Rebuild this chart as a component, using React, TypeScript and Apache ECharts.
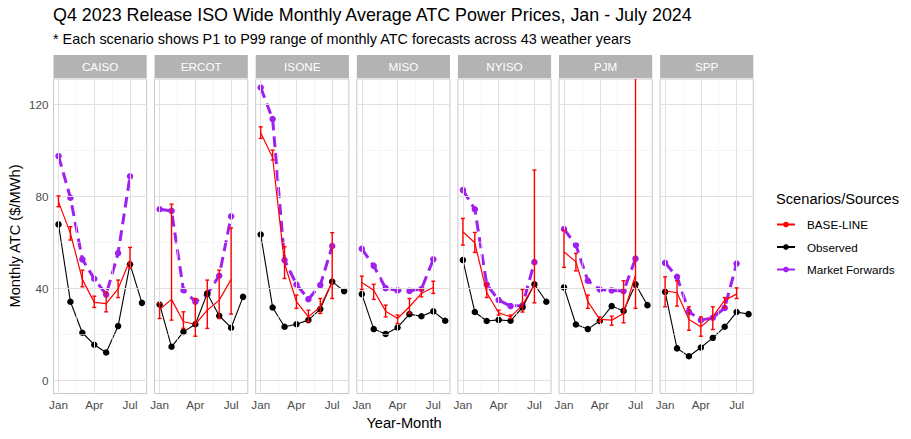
import React, { useEffect, useRef } from "react";
import * as echarts from "echarts";

const months = ["Jan", "Feb", "Mar", "Apr", "May", "Jun", "Jul", "Aug"];
const isos = ["CAISO", "ERCOT", "ISONE", "MISO", "NYISO", "PJM", "SPP"];

const observed: number[][] = [
  [67.7, 34.1, 20.6, 15.4, 12.0, 23.5, 50.4, 33.6],
  [32.9, 14.5, 21.0, 24.3, 37.7, 28.0, 22.8, 36.2],
  [63.3, 31.6, 23.2, 24.3, 26.1, 30.9, 42.8, 38.7],
  [37.4, 22.2, 20.1, 22.9, 28.7, 27.8, 29.9, 25.8],
  [52.2, 29.6, 25.7, 26.2, 25.8, 31.6, 41.7, 34.1],
  [40.3, 24.2, 22.2, 25.7, 32.2, 30.1, 41.7, 32.6],
  [38.4, 13.8, 10.4, 14.2, 18.4, 23.2, 29.6, 28.7],
];

const baseMid: number[][] = [
  [77.5, 63.8, 43.8, 33.8, 33.3, 39.7, 52.2],
  [30.7, 35.1, 25.4, 24.3, 30.4, 34.8, 43.8],
  [107.5, 96.8, 50.7, 34.1, 27.5, 31.9, 42.8],
  [42.5, 39.1, 30.0, 26.8, 31.9, 37.7, 40.3],
  [64.5, 59.7, 38.0, 29.3, 27.5, 32.6, 41.7],
  [55.8, 51.4, 34.1, 26.4, 26.1, 29.0, 45.7],
  [38.8, 38.0, 26.4, 23.2, 27.5, 34.8, 37.4],
];
const baseLow: number[][] = [
  [75.4, 60.9, 40.6, 31.6, 29.7, 35.9, 48.6],
  [26.8, 26.1, 22.5, 19.1, 22.5, 26.8, 28.7],
  [105.1, 95.7, 44.2, 31.2, 25.4, 29.0, 35.5],
  [39.4, 35.1, 27.5, 24.6, 29.0, 36.2, 37.7],
  [58.7, 55.5, 35.9, 28.3, 26.8, 29.6, 33.6],
  [49.0, 47.5, 31.2, 25.4, 23.9, 24.9, 31.2],
  [31.9, 32.2, 21.7, 19.1, 22.0, 31.5, 35.5],
];
const baseHigh: number[][] = [
  [80.1, 66.7, 47.8, 36.5, 38.3, 43.5, 57.7],
  [33.3, 76.5, 29.7, 35.5, 43.5, 47.8, 66.2],
  [110.1, 100.0, 58.0, 37.0, 30.4, 35.5, 64.1],
  [45.2, 41.7, 32.6, 28.3, 35.5, 39.4, 43.0],
  [70.3, 64.2, 42.0, 30.4, 28.3, 39.4, 91.3],
  [65.2, 55.1, 37.0, 27.5, 27.8, 43.2, 160.0],
  [44.9, 43.2, 31.9, 27.5, 31.9, 35.9, 40.1],
];

const forwards: number[][] = [
  [97.4, 79.3, 52.5, 44.1, 37.2, 55.2, 88.6],
  [74.3, 73.6, 39.1, 34.1, 37.4, 45.4, 71.2],
  [127.2, 113.5, 52.2, 41.6, 35.2, 41.3, 58.3],
  [57.1, 49.7, 40.0, 39.0, 38.8, 39.6, 52.5],
  [82.6, 74.3, 41.6, 34.8, 32.2, 32.5, 51.3],
  [65.7, 58.7, 43.2, 39.4, 39.0, 38.7, 52.8],
  [51.0, 44.9, 29.7, 26.1, 27.1, 31.4, 50.7],
];

const xTicks = [0, 3, 6];
const xMinor = [1.5, 4.5];
const yTicks = [0, 40, 80, 120];
const yMinor = [20, 60, 100];
const legendNames = ["BASE-LINE", "Observed", "Market Forwards"];

const FONT = "Liberation Sans, Arial, sans-serif";
const RED = "#FF0000";
const PURPLE = "#A020F0";
const BLACK = "#000000";

const PANEL_LEFT = 53.5;
const PANEL_STEP = 101.1;
const PANEL_W = 93.2;
const PANEL_TOP = 79;
const PANEL_H = 314.5;
const STRIP_H = 23;

export default function App() {
  const ref = useRef<HTMLDivElement>(null);
  useEffect(() => {
    if (!ref.current) return;
    const chart = echarts.init(ref.current, null, { renderer: "svg" });

    const grids: any[] = [];
    const xAxes: any[] = [];
    const yAxes: any[] = [];
    const series: any[] = [];
    const graphics: any[] = [];

    isos.forEach((iso, i) => {
      const left = PANEL_LEFT + PANEL_STEP * i;
      grids.push({
        left,
        top: PANEL_TOP,
        width: PANEL_W,
        height: PANEL_H,
        show: true,
        borderColor: "#c8c8c8",
        borderWidth: 1,
        backgroundColor: "#ffffff",
        containLabel: false,
      });
      xAxes.push({
        type: "value",
        gridIndex: i,
        min: -0.42,
        max: 7.4,
        axisLine: { show: false },
        splitLine: { show: false },
        axisTick: {
          show: true,
          customValues: xTicks,
          length: 3,
          lineStyle: { color: "#b3b3b3", width: 1 },
        },
        axisLabel: {
          show: true,
          customValues: xTicks,
          formatter: (v: number) => months[Math.round(v)] || "",
          color: "#4d4d4d",
          fontSize: 11.7,
          fontFamily: FONT,
          margin: 5,
        },
      });
      yAxes.push({
        type: "value",
        gridIndex: i,
        min: -5.8,
        max: 130.9,
        axisLine: { show: false },
        splitLine: { show: false },
        axisTick: {
          show: i === 0,
          customValues: yTicks,
          length: 3,
          lineStyle: { color: "#b3b3b3", width: 1 },
        },
        axisLabel: {
          show: i === 0,
          customValues: yTicks,
          color: "#4d4d4d",
          fontSize: 11.7,
          fontFamily: FONT,
          margin: 5,
        },
      });

      const gridLines: any[] = [];
      xMinor.forEach((v) =>
        gridLines.push({ xAxis: v, lineStyle: { color: "#f0f0f0", width: 0.6, type: "solid" } })
      );
      yMinor.forEach((v) =>
        gridLines.push({ yAxis: v, lineStyle: { color: "#f0f0f0", width: 0.6, type: "solid" } })
      );
      xTicks.forEach((v) =>
        gridLines.push({ xAxis: v, lineStyle: { color: "#e0e0e0", width: 1, type: "solid" } })
      );
      yTicks.forEach((v) =>
        gridLines.push({ yAxis: v, lineStyle: { color: "#e0e0e0", width: 1, type: "solid" } })
      );

      series.push({
        type: "line",
        name: "grid" + i,
        xAxisIndex: i,
        yAxisIndex: i,
        data: [],
        z: 1,
        silent: true,
        markLine: {
          silent: true,
          symbol: ["none", "none"],
          label: { show: false },
          animation: false,
          data: gridLines,
        },
      });

      series.push({
        type: "line",
        name: "Market Forwards",
        xAxisIndex: i,
        yAxisIndex: i,
        data: forwards[i].map((v, k) => [k, v]),
        symbol: "circle",
        symbolSize: 6.5,
        itemStyle: { color: PURPLE },
        lineStyle: { color: PURPLE, width: 3, type: [11, 6] },
        z: 3,
      });
      series.push({
        type: "line",
        name: "Observed",
        xAxisIndex: i,
        yAxisIndex: i,
        data: observed[i].map((v, k) => [k, v]),
        symbol: "circle",
        symbolSize: 6.5,
        itemStyle: { color: BLACK },
        lineStyle: { color: BLACK, width: 1.1 },
        z: 4,
      });
      series.push({
        type: "line",
        name: "BASE-LINE",
        xAxisIndex: i,
        yAxisIndex: i,
        data: baseMid[i].map((v, k) => [k, v]),
        showSymbol: false,
        symbol: "none",
        lineStyle: { color: RED, width: 1.2 },
        z: 5,
      });
      series.push({
        type: "custom",
        name: "BASE-LINE-range",
        xAxisIndex: i,
        yAxisIndex: i,
        data: baseLow[i].map((v, k) => [k, v, baseHigh[i][k]]),
        encode: { x: 0, y: [1, 2] },
        z: 6,
        renderItem: (params: any, api: any) => {
          const x = api.value(0);
          const lo = api.value(1);
          const hi = api.value(2);
          const pLo = api.coord([x, lo]);
          const pHi = api.coord([x, hi]);
          const cs = params.coordSys;
          const topY = Math.max(pHi[1], cs.y);
          const half = 2;
          const style = { stroke: RED, lineWidth: 1.4 };
          const children: any[] = [
            { type: "line", shape: { x1: pLo[0], y1: pLo[1], x2: pLo[0], y2: topY }, style },
            { type: "line", shape: { x1: pLo[0] - half, y1: pLo[1], x2: pLo[0] + half, y2: pLo[1] }, style },
          ];
          if (pHi[1] >= cs.y) {
            children.push({
              type: "line",
              shape: { x1: pHi[0] - half, y1: pHi[1], x2: pHi[0] + half, y2: pHi[1] },
              style,
            });
          }
          return { type: "group", children };
        },
      });

      graphics.push({
        type: "rect",
        shape: { x: left, y: PANEL_TOP - STRIP_H - 1, width: PANEL_W, height: STRIP_H },
        style: { fill: "#b3b3b3" },
        silent: true,
      });
      graphics.push({
        type: "text",
        x: left + PANEL_W / 2,
        y: PANEL_TOP - 1 - STRIP_H / 2,
        style: {
          text: iso,
          fill: "#ffffff",
          font: `11.7px ${FONT}`,
          align: "center",
          verticalAlign: "middle",
        },
        silent: true,
      });
    });

    // titles
    graphics.push({
      type: "text",
      x: 53,
      y: 15,
      style: {
        text: "Q4 2023 Release ISO Wide Monthly Average ATC Power Prices, Jan - July 2024",
        fill: "#000000",
        font: `17.9px ${FONT}`,
        verticalAlign: "middle",
      },
    });
    graphics.push({
      type: "text",
      x: 53,
      y: 39,
      style: {
        text: "* Each scenario shows P1 to P99 range of monthly ATC forecasts across 43 weather years",
        fill: "#000000",
        font: `14.4px ${FONT}`,
        verticalAlign: "middle",
      },
    });
    graphics.push({
      type: "text",
      x: 404,
      y: 423,
      style: {
        text: "Year-Month",
        fill: "#000000",
        font: `14.67px ${FONT}`,
        align: "center",
        verticalAlign: "middle",
      },
    });
    graphics.push({
      type: "text",
      x: 15,
      y: 236,
      rotation: Math.PI / 2,
      style: {
        text: "Monthly ATC ($/MWh)",
        fill: "#000000",
        font: `14.67px ${FONT}`,
        align: "center",
        verticalAlign: "middle",
      },
    });

    // legend
    graphics.push({
      type: "text",
      x: 776,
      y: 199,
      style: {
        text: "Scenarios/Sources",
        fill: "#000000",
        font: `14.67px ${FONT}`,
        verticalAlign: "middle",
      },
    });
    const legendColors = [RED, BLACK, PURPLE];
    legendNames.forEach((name, k) => {
      const cy = 224.5 + k * 22.5;
      graphics.push({
        type: "line",
        shape: { x1: 777, y1: cy, x2: 795, y2: cy },
        style: { stroke: legendColors[k], lineWidth: 2 },
      });
      graphics.push({
        type: "circle",
        shape: { cx: 786, cy, r: 2.8 },
        style: { fill: legendColors[k] },
      });
      graphics.push({
        type: "text",
        x: 807,
        y: cy,
        style: {
          text: name,
          fill: "#000000",
          font: `11.7px ${FONT}`,
          verticalAlign: "middle",
        },
      });
    });

    chart.setOption({
      animation: false,
      backgroundColor: "#ffffff",
      grid: grids,
      xAxis: xAxes,
      yAxis: yAxes,
      series,
      graphic: graphics,
    });
    return () => chart.dispose();
  }, []);

  return (
    <div
      ref={ref}
      style={{ position: "fixed", left: 0, top: 0, width: 911, height: 439 }}
    />
  );
}
